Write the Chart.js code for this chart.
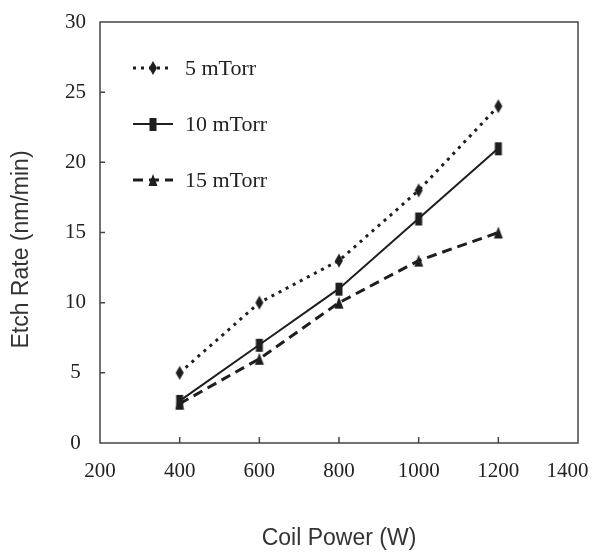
<!DOCTYPE html>
<html>
<head>
<meta charset="utf-8">
<script src="https://cdn.jsdelivr.net/npm/chart.js@4"></script>
<style>
    body { margin: 0; background: #fff; }
</style>
</head>
<body>
<canvas id="myChart" width="596" height="552"></canvas>
<script>
// Datos de la gráfica: potencia de bobina y velocidad de grabado por presión.
const coilPower = [400, 600, 800, 1000, 1200];
const rate5 = [5, 10, 13, 18, 24];
const rate10 = [3, 7, 11, 16, 21];
const rate15 = [2.8, 6, 10, 13, 15];
const seriesLabels = ['5 mTorr', '10 mTorr', '15 mTorr'];
const xTicks = [200, 400, 600, 800, 1000, 1200, 1400];
const yTicks = [0, 5, 10, 15, 20, 25, 30];

const INK = '#1e1e1e';

// Función que dibuja un marcador en un canvas pequeño para usarlo como pointStyle.
function marker(shape) {
    let c = document.createElement('canvas');
    c.width = 12;
    c.height = 16;
    let g = c.getContext('2d');
    g.fillStyle = INK;
    g.beginPath();
    if (shape == 'diamond') {
        g.moveTo(6, 1); g.lineTo(10, 8); g.lineTo(6, 15); g.lineTo(2, 8);
    } else if (shape == 'rect') {
        g.rect(2.5, 2, 7, 13);
    } else {
        g.moveTo(6, 2); g.lineTo(10.5, 14); g.lineTo(1.5, 14);
    }
    g.closePath();
    g.fill();
    return c;
}

// Se arma la serie como pares x/y.
function points(values) {
    return coilPower.map(function (x, i) { return { x: x, y: values[i] }; });
}

// Plugin para el marco, las marcas internas de los ejes, el título vertical y la leyenda.
const frame = {
    id: 'frame',
    afterDraw(chart) {
        const { ctx, chartArea: a, scales: { x, y } } = chart;
        ctx.save();
        ctx.strokeStyle = '#444';
        ctx.lineWidth = 1.5;
        ctx.strokeRect(a.left, a.top, a.right - a.left, a.bottom - a.top);
        ctx.beginPath();
        xTicks.slice(1, -1).forEach(function (v) {
            let px = x.getPixelForValue(v);
            ctx.moveTo(px, a.bottom);
            ctx.lineTo(px, a.bottom - 6);
        });
        yTicks.slice(1, -1).forEach(function (v) {
            let py = y.getPixelForValue(v);
            ctx.moveTo(a.left, py);
            ctx.lineTo(a.left + 5, py);
        });
        ctx.stroke();

        // título del eje y, un poco más abajo del centro como en la figura
        ctx.save();
        ctx.translate(22, (a.top + a.bottom) / 2 + 17);
        ctx.rotate(-Math.PI / 2);
        ctx.fillStyle = '#333';
        ctx.font = '23px "Liberation Sans"';
        ctx.textAlign = 'center';
        ctx.textBaseline = 'middle';
        ctx.fillText('Etch Rate (nm/min)', 0, 0);
        ctx.restore();

        // leyenda dentro del área
        chart.data.datasets.forEach(function (ds, i) {
            let rowY = 68 + i * 56;
            ctx.strokeStyle = ds.borderColor;
            ctx.lineWidth = ds.borderWidth;
            ctx.setLineDash(ds.borderDash || []);
            ctx.beginPath();
            ctx.moveTo(133, rowY);
            ctx.lineTo(173, rowY);
            ctx.stroke();
            ctx.setLineDash([]);
            ctx.drawImage(ds.pointStyle, 147, rowY - 8);
            ctx.fillStyle = '#222';
            ctx.font = '22px "Liberation Serif"';
            ctx.textBaseline = 'middle';
            ctx.fillText(ds.label, 185, rowY + 1);
        });
        ctx.restore();
    }
};

var ctx = document.getElementById('myChart').getContext('2d');
var chart = new Chart(ctx, {
    type: 'line',
    data: {
        datasets: [{
            label: seriesLabels[0],
            data: points(rate5),
            borderColor: INK,
            borderWidth: 3,
            borderDash: [3, 5],
            pointStyle: marker('diamond')
        }, {
            label: seriesLabels[1],
            data: points(rate10),
            borderColor: INK,
            borderWidth: 2,
            pointStyle: marker('rect')
        }, {
            label: seriesLabels[2],
            data: points(rate15),
            borderColor: INK,
            borderWidth: 3,
            borderDash: [10, 6],
            pointStyle: marker('triangle')
        }]
    },
    options: {
        responsive: false,
        animation: false,
        devicePixelRatio: 1,
        layout: { padding: { top: 22, right: 18 } },
        plugins: { legend: { display: false }, tooltip: { enabled: false } },
        scales: {
            x: {
                type: 'linear',
                min: 200,
                max: 1400,
                afterBuildTicks: function (s) { s.ticks = xTicks.map(function (v) { return { value: v }; }); },
                afterFit: function (s) { s.height = 109; s.paddingLeft = 0; s.paddingRight = 0; },
                grid: { display: false },
                border: { display: false },
                ticks: {
                    padding: 8,
                    color: '#222',
                    font: { family: 'Liberation Serif', size: 21 },
                    // el último rótulo queda corrido a la izquierda para que quepa, como en la figura
                    callback: function (v) { return v == 1400 ? String(v) + '\u2003' : String(v); }
                },
                title: { display: true, text: 'Coil Power (W)', color: '#333', padding: { top: 0, bottom: 0 }, font: { family: 'Liberation Sans', size: 23 } }
            },
            y: {
                min: 0,
                max: 30,
                afterBuildTicks: function (s) { s.ticks = yTicks.map(function (v) { return { value: v }; }); },
                afterFit: function (s) { s.width = 100; s.paddingTop = 0; s.paddingBottom = 0; },
                grid: { display: false },
                border: { display: false },
                ticks: { padding: 6, crossAlign: 'center', color: '#222', font: { family: 'Liberation Serif', size: 21 } },
                title: { display: false }
            }
        }
    },
    plugins: [frame]
});
</script>
</body>
</html>
